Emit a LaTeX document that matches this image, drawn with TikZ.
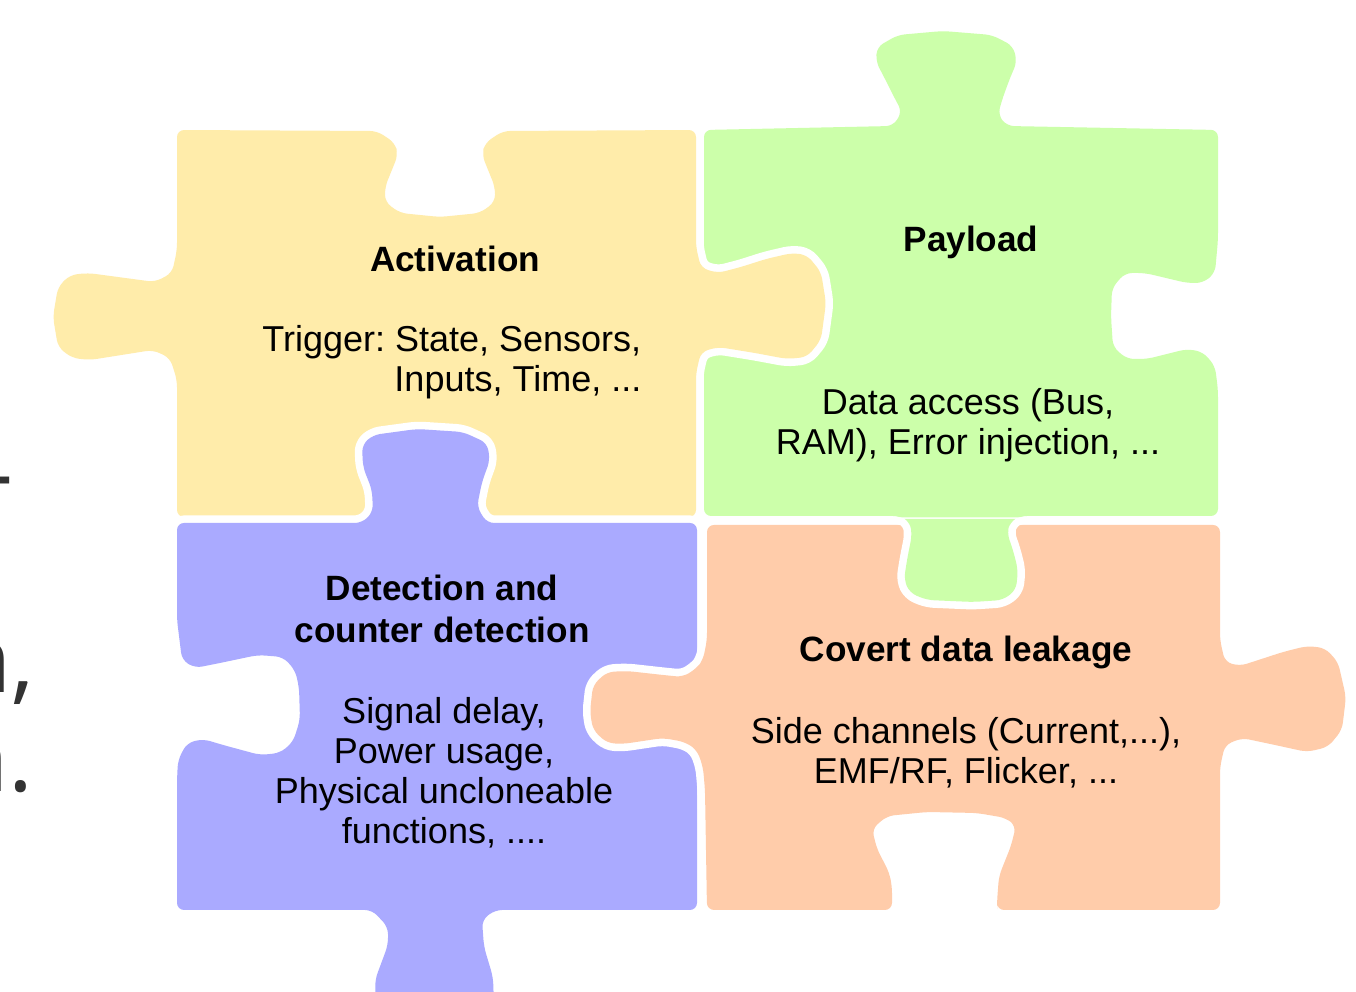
\documentclass[tikz,border=0pt]{standalone}
\usepackage{fontspec}
\setmainfont{Liberation Sans}
\newfontfamily\slidefont{Open Sans}
\definecolor{actcol}{RGB}{255,236,170}
\definecolor{paycol}{RGB}{204,255,170}
\definecolor{detcol}{RGB}{170,170,255}
\definecolor{covcol}{RGB}{255,204,170}
\definecolor{fragcol}{RGB}{51,51,51}
\frenchspacing
\tikzset{
  halo/.style={draw=white,line width=4.3pt,line join=round},
  title/.style={font=\bfseries,align=center,inner sep=0pt},
  body/.style={align=center,inner sep=0pt},
  frag/.style={font=\slidefont\fontsize{26.5pt}{30pt}\selectfont,text=fragcol,inner sep=0pt}
}
\begin{document}
\begin{tikzpicture}[x=0.01cm,y=-0.01cm,rounded corners=2pt,font=\fontsize{10.24pt}{11.4pt}\selectfont]
\useasboundingbox (0,0) rectangle (1356,992);
%outlines of the pieces
\def\actpath{(177,130) -- (377,131) -- (395,143) -- (398,155) -- (385,187) -- (385,202) -- (400,213) -- (440,217) -- (480,213) -- (495,202) -- (495,187) -- (482,155) -- (485,143) -- (503,131) -- (696,130) -- (696,247) -- (701,268) -- (718,273) -- (741,267) -- (766,259) -- (792,253) -- (807,255) -- (821,272) -- (826,303) -- (821,340) -- (807,357) -- (787,359) -- (755,353) -- (718,347) -- (701,352) -- (696,373) -- (696,517) -- (177,517) -- (177,380) -- (170,358) -- (153,350) -- (90,360) -- (72,358) -- (58,347) -- (53,317) -- (58,287) -- (70,275) -- (88,273) -- (155,282) -- (172,273) -- (177,250) -- cycle}
\def\paypath{(704,130) -- (893,126) -- (902,112) -- (893,95) -- (882,73) -- (876,62) -- (877,47) -- (898,35) -- (943,31) -- (992,35) -- (1013,46) -- (1017,62) -- (1010,78) -- (1002,100) -- (998,115) -- (1007,126) -- (1218,130) -- (1218,240) -- (1215,273) -- (1203,283) -- (1187,283) -- (1145,273) -- (1125,273) -- (1112,288) -- (1111,317) -- (1113,347) -- (1127,359) -- (1147,359) -- (1187,349) -- (1203,352) -- (1215,366) -- (1218,390) -- (1218,516) -- (1020,516) -- (1010,522) -- (1007,533) -- (1013,550) -- (1018,570) -- (1016,590) -- (1003,600) -- (973,602) -- (927,600) -- (910,593) -- (904,580) -- (907,560) -- (912,535) -- (910,522) -- (900,516) -- (704,516) -- cycle}
\def\detpath{(177,523) -- (362,523) -- (373,512) -- (372,490) -- (363,467) -- (362,445) -- (373,435) -- (417,429) -- (463,432) -- (487,443) -- (490,460) -- (482,482) -- (477,507) -- (487,523) -- (697,523) -- (697,910) -- (495,910) -- (482,920) -- (484,947) -- (493,977) -- (494,1005) -- (376,1005) -- (375,980) -- (388,945) -- (388,927) -- (372,910) -- (177,910) -- (177,780) -- (178,760) -- (187,743) -- (203,739) -- (223,745) -- (260,755) -- (280,753) -- (293,742) -- (300,720) -- (299,687) -- (295,670) -- (283,657) -- (258,655) -- (220,663) -- (195,668) -- (182,660) -- (177,620) -- cycle}
\def\covpath{(707,525) -- (1220,525) -- (1220,640) -- (1225,662) -- (1240,666) -- (1283,652) -- (1307,646) -- (1325,648) -- (1338,662) -- (1346,697) -- (1342,730) -- (1328,747) -- (1307,752) -- (1275,745) -- (1242,738) -- (1225,745) -- (1220,767) -- (1220,910) -- (997,910) -- (997,902) -- (999,876) -- (1011,846) -- (1016,826) -- (1006,818) -- (977,813) -- (927,812) -- (887,816) -- (872,829) -- (877,849) -- (889,872) -- (892,886) -- (892,910) -- (707,910) -- (705,790) -- (703,767) -- (697,750) -- (685,742) -- (663,738) -- (623,744) -- (607,743) -- (593,730) -- (590,712) -- (593,685) -- (607,672) -- (627,671) -- (663,675) -- (683,677) -- (697,668) -- (703,660) -- (707,640) -- cycle}
%pieces, each with a white rim
\path[halo] \paypath; \fill[paycol] \paypath;
\path[halo] \actpath; \fill[actcol] \actpath;
\path[halo] \detpath; \fill[detcol] \detpath;
\path[halo] \covpath; \fill[covcol] \covpath;
%tab of the payload piece lies on top of the leakage piece
\begin{scope}
\clip (850,519) rectangle (1080,625);
\path[halo] \paypath; \fill[paycol] \paypath;
\end{scope}
%texts
\node[title] (acttitle) at (455,259) {Activation};
\node[body,anchor=east,align=right] (acttext) at (642,362) {Trigger: State, Sensors,\\Inputs, Time, ...};
\node[title] (paytitle) at (971,242) {Payload};
\node[body] (paytext) at (968,425) {Data access (Bus,\\RAM), Error injection, ...};
\node[title] (dettitle) at (442,609) {Detection and\\counter detection};
\node[body] (dettext) at (444,773) {Signal delay,\\Power usage,\\Physical uncloneable\\functions, ....};
\node[title] (covtitle) at (966,652) {Covert data leakage};
\node[body] (covtext) at (966,753) {Side channels (Current,...),\\EMF/RF, Flicker, ...};
%cut off words at the left border
\node[frag,anchor=base east] (fraga) at (14,506) {-};
\node[frag,anchor=base east] (fragb) at (35,693) {n,};
\node[frag,anchor=base east] (fragc) at (34,792) {n.};
\end{tikzpicture}
\end{document}
